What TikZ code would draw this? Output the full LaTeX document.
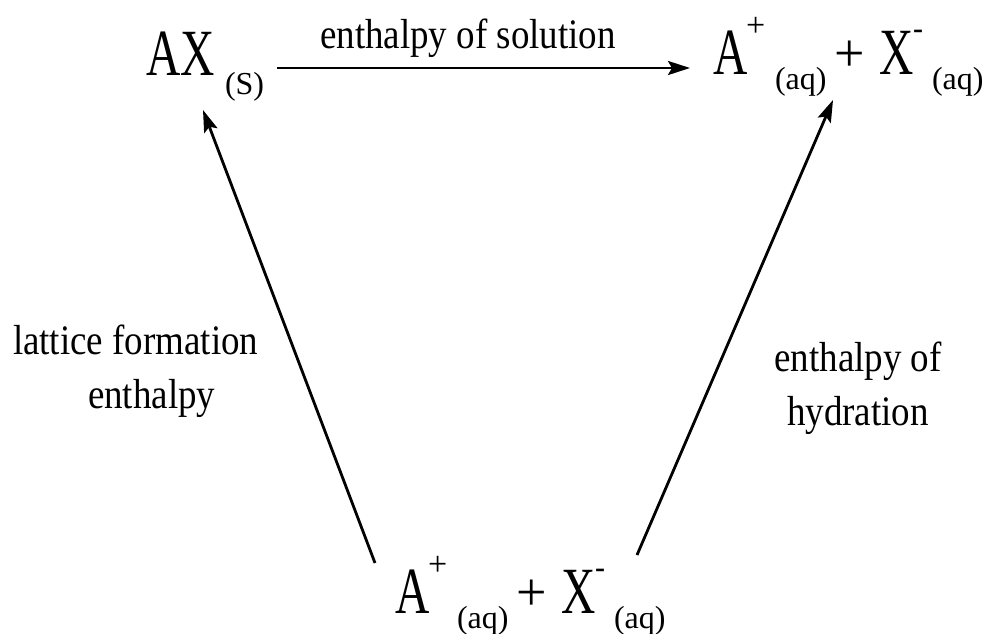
\documentclass[tikz,border=0pt]{standalone}
\usepackage{fontspec}
\setmainfont{Liberation Serif}
\newfontfamily\bigf{Liberation Serif}[FakeStretch=0.72]
\newfontfamily\lblf{Liberation Serif}[FakeStretch=0.88]
\usetikzlibrary{arrows.meta}
\begin{document}
\begin{tikzpicture}[x=1pt,y=-1pt,
  every node/.style={inner sep=0pt,outer sep=0pt,anchor=base west},
  big/.style={font=\bigf\fontsize{66}{66}\selectfont},
  subs/.style={font=\fontsize{32}{32}\selectfont},
  sups/.style={font=\fontsize{34}{34}\selectfont},
  dashsup/.style={font=\bfseries\fontsize{30}{30}\selectfont},
  plus/.style={font=\fontsize{54}{54}\selectfont},
  lbl/.style={font=\lblf\fontsize{42}{54}\selectfont},
  arr/.style={line width=2.8pt,-{Stealth[length=22pt,width=14pt,inset=4pt]}}]
\useasboundingbox (0,0) rectangle (984,633);

% top left: AX(s)
\node[big] (AX) at (146,75) {AX};
\node[font=\fontsize{32}{32}\selectfont] (AXs) at (225,94) {(S)};

% top right: A+(aq) + X-(aq)
\node[big] (TA) at (713,74) {A};
\node[sups] (TAc) at (746,36) {+};
\node[subs] (TAs) at (775,89) {(aq)};
\node[plus] (TP) at (834,71) {+};
\node[big] (TX) at (879,74) {X};
\node[dashsup] (TXc) at (913,38) {-};
\node[subs] (TXs) at (932,89) {(aq)};

% bottom: A+(aq) + X-(aq)
\node[big] (BA) at (395,613) {A};
\node[sups] (BAc) at (428,575) {+};
\node[subs] (BAs) at (457,628) {(aq)};
\node[plus] (BP) at (516,610) {+};
\node[big] (BX) at (561,613) {X};
\node[dashsup] (BXc) at (595,577) {-};
\node[subs] (BXs) at (614,628) {(aq)};

% labels
\node[lbl,anchor=base] (sol) at (468,48) {enthalpy of solution};
\node[lbl,align=left] (lat) at (13,408) {lattice formation\\\hspace*{75pt}enthalpy};
\node[lbl,align=center,anchor=base] (hyd) at (858,425) {enthalpy of\\hydration};

% connector ends
\coordinate (tstart) at (277,68);
\coordinate (tend) at (690,68);
\coordinate (lbot) at (375,563);
\coordinate (ltip) at (203,110);
\coordinate (rbot) at (637,555);
\coordinate (rtip) at (833,100);

\draw[arr] (tstart) -- (tend);
\draw[arr] (lbot) -- (ltip);
\draw[arr] (rbot) -- (rtip);
\end{tikzpicture}
\end{document}
